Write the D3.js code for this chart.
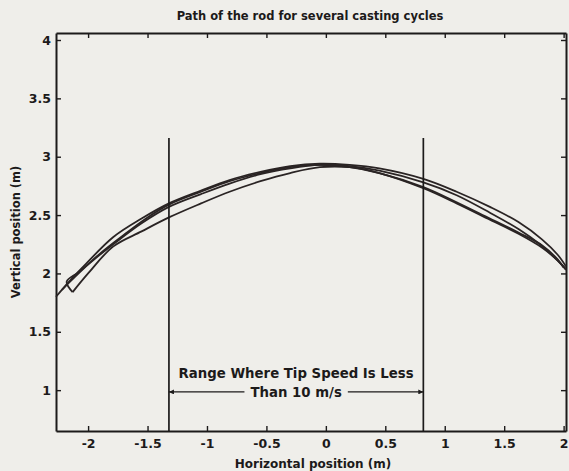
<!DOCTYPE html>
<html lang="en">
  <head>
    <meta charset="utf-8"/>
    <script src="https://d3js.org/d3.v7.min.js"></script>
    <title>Path of the rod</title>
  </head>
  <body>
    <svg id="chart"></svg>
  </body>

  <style>
    body { margin: 0; background: #efeeea; }
    svg { display: block; }
    text { font-family: "DejaVu Sans", sans-serif; font-weight: bold; fill: #1c1a1a; }
  </style>

  <script>
    // traced rod paths, one pair of arrays per casting cycle
    const cycle1X = [-2.27, -2.16, -2.02, -1.79, -1.55, -1.32, -1.05, -0.81, -0.55, -0.30, -0.05, 0.20, 0.45, 0.82, 1.10, 1.38, 1.62, 1.82, 1.95, 2.02];
    const cycle1Y = [1.80, 1.93, 2.08, 2.31, 2.47, 2.60, 2.71, 2.80, 2.87, 2.92, 2.94, 2.93, 2.90, 2.81, 2.70, 2.57, 2.44, 2.29, 2.16, 2.06];
    const cycle2X = [-2.13, -2.00, -1.79, -1.55, -1.32, -1.05, -0.81, -0.55, -0.30, -0.05, 0.20, 0.45, 0.82, 1.10, 1.38, 1.62, 1.82, 1.95, 2.02];
    const cycle2Y = [1.84, 2.00, 2.23, 2.36, 2.48, 2.60, 2.70, 2.79, 2.86, 2.91, 2.91, 2.86, 2.73, 2.60, 2.46, 2.34, 2.22, 2.11, 2.03];
    const cycle3X = [-2.22, -2.08, -1.90, -1.70, -1.50, -1.32, -1.05, -0.81, -0.55, -0.30, -0.05, 0.20, 0.45, 0.82, 1.10, 1.38, 1.62, 1.82, 1.95, 2.00];
    const cycle3Y = [1.86, 2.00, 2.17, 2.33, 2.48, 2.59, 2.70, 2.79, 2.86, 2.91, 2.93, 2.91, 2.86, 2.74, 2.61, 2.47, 2.35, 2.24, 2.12, 2.05];
    const cycle4X = [-2.13, -2.18, -2.08, -1.95, -1.75, -1.55, -1.32, -1.05, -0.81, -0.55, -0.30, -0.05, 0.20, 0.45, 0.82, 1.10, 1.38, 1.62, 1.80, 1.92, 2.02];
    const cycle4Y = [1.84, 1.93, 2.01, 2.12, 2.28, 2.43, 2.57, 2.68, 2.77, 2.85, 2.90, 2.93, 2.92, 2.88, 2.78, 2.67, 2.52, 2.38, 2.25, 2.14, 2.04];

    const xTicks = [-2, -1.5, -1, -0.5, 0, 0.5, 1, 1.5, 2];
    const yTicks = [1, 1.5, 2, 2.5, 3, 3.5, 4];

    // range where tip speed is below 10 m/s
    const rangeBounds = [-1.32, 0.82];
    const rangeTop = 3.16;
    const arrowY = 0.985;
    const noteLines = ["Range Where Tip Speed Is Less", "Than 10 m/s"];

    const W = 569, H = 471;
    const margin = {top: 33, right: 3, bottom: 40, left: 56};

    const svg = d3.select("#chart")
        .attr("width", W)
        .attr("height", H);

    const x = d3.scaleLinear()
      .domain([-2.27, 2.02])
      .range([margin.left, W - margin.right]);
    const y = d3.scaleLinear()
      .domain([0.65, 4.06])
      .range([H - margin.bottom, margin.top]);

    const ink = "#1c1a1a";
    const fmt = d => String(d);

    // box axes with inward ticks
    const fontSize = "12.5px";
    svg.append("g")
        .attr("transform", "translate(0," + (H - margin.bottom) + ")")
        .call(d3.axisBottom(x).tickValues(xTicks).tickSizeInner(-5).tickSizeOuter(0).tickPadding(8).tickFormat(fmt))
        .call(g => g.selectAll("text").style("font-size", fontSize));
    svg.append("g")
        .attr("transform", "translate(0," + margin.top + ")")
        .call(d3.axisTop(x).tickValues(xTicks).tickSizeInner(-5).tickSizeOuter(0).tickFormat(""));
    svg.append("g")
        .attr("transform", "translate(" + margin.left + ",0)")
        .call(d3.axisLeft(y).tickValues(yTicks).tickSizeInner(-5).tickSizeOuter(0).tickPadding(5).tickFormat(fmt))
        .call(g => g.selectAll("text").style("font-size", fontSize));
    svg.append("g")
        .attr("transform", "translate(" + (W - margin.right) + ",0)")
        .call(d3.axisRight(y).tickValues(yTicks).tickSizeInner(-5).tickSizeOuter(0).tickFormat(""));

    svg.selectAll(".domain").attr("stroke", ink).attr("stroke-width", 2);
    svg.selectAll(".tick line").attr("stroke", ink).attr("stroke-width", 1.4);
    svg.selectAll(".tick text").style("fill", ink).attr("font-family", null);

    // rod paths
    const cycles = [
      d3.zip(cycle1X, cycle1Y),
      d3.zip(cycle2X, cycle2Y),
      d3.zip(cycle3X, cycle3Y),
      d3.zip(cycle4X, cycle4Y)
    ];
    const line = d3.line()
      .x(d => x(d[0]))
      .y(d => y(d[1]))
      .curve(d3.curveCatmullRom);

    svg.selectAll(".cycle")
      .data(cycles)
      .enter()
      .append("path")
        .attr("class", "cycle")
        .attr("d", line)
        .attr("fill", "none")
        .attr("stroke", "#2a2424")
        .attr("stroke-width", 1.8);

    // speed range markers
    svg.selectAll(".bound")
      .data(rangeBounds)
      .enter()
      .append("line")
        .attr("class", "bound")
        .attr("x1", d => x(d)).attr("x2", d => x(d))
        .attr("y1", y(rangeTop)).attr("y2", y(0.65))
        .attr("stroke", ink)
        .attr("stroke-width", 1.7);

    svg.append("defs").append("marker")
        .attr("id", "head")
        .attr("viewBox", "0 0 10 10")
        .attr("refX", 10).attr("refY", 5)
        .attr("markerWidth", 7).attr("markerHeight", 5)
        .attr("markerUnits", "userSpaceOnUse")
        .attr("orient", "auto")
      .append("path")
        .attr("d", "M0,0L10,5L0,10z")
        .attr("fill", ink);

    const midX = x((rangeBounds[0] + rangeBounds[1]) / 2);
    svg.append("text")
        .attr("x", midX)
        .attr("y", y(1.10))
        .attr("text-anchor", "middle")
        .style("font-size", "13.3px")
        .text(noteLines[0]);
    const second = svg.append("text")
        .attr("x", midX)
        .attr("y", y(0.94))
        .attr("text-anchor", "middle")
        .style("font-size", "13.3px")
        .text(noteLines[1]);
    const half = second.node().getComputedTextLength() / 2 + 6;

    svg.append("line")
        .attr("x1", midX - half).attr("x2", x(rangeBounds[0]))
        .attr("y1", y(arrowY)).attr("y2", y(arrowY))
        .attr("stroke", ink).attr("stroke-width", 1.3)
        .attr("marker-end", "url(#head)");
    svg.append("line")
        .attr("x1", midX + half).attr("x2", x(rangeBounds[1]))
        .attr("y1", y(arrowY)).attr("y2", y(arrowY))
        .attr("stroke", ink).attr("stroke-width", 1.3)
        .attr("marker-end", "url(#head)");

    // titles
    svg.append("text")
        .attr("x", 310)
        .attr("y", 20)
        .attr("text-anchor", "middle")
        .style("font-size", "11.5px")
        .text("Path of the rod for several casting cycles");
    svg.append("text")
        .attr("x", 313)
        .attr("y", 468)
        .attr("text-anchor", "middle")
        .style("font-size", "12px")
        .text("Horizontal position (m)");
    svg.append("text")
        .attr("transform", "translate(20,232) rotate(-90)")
        .attr("text-anchor", "middle")
        .style("font-size", "11.5px")
        .text("Vertical position (m)");
  </script>
</html>
